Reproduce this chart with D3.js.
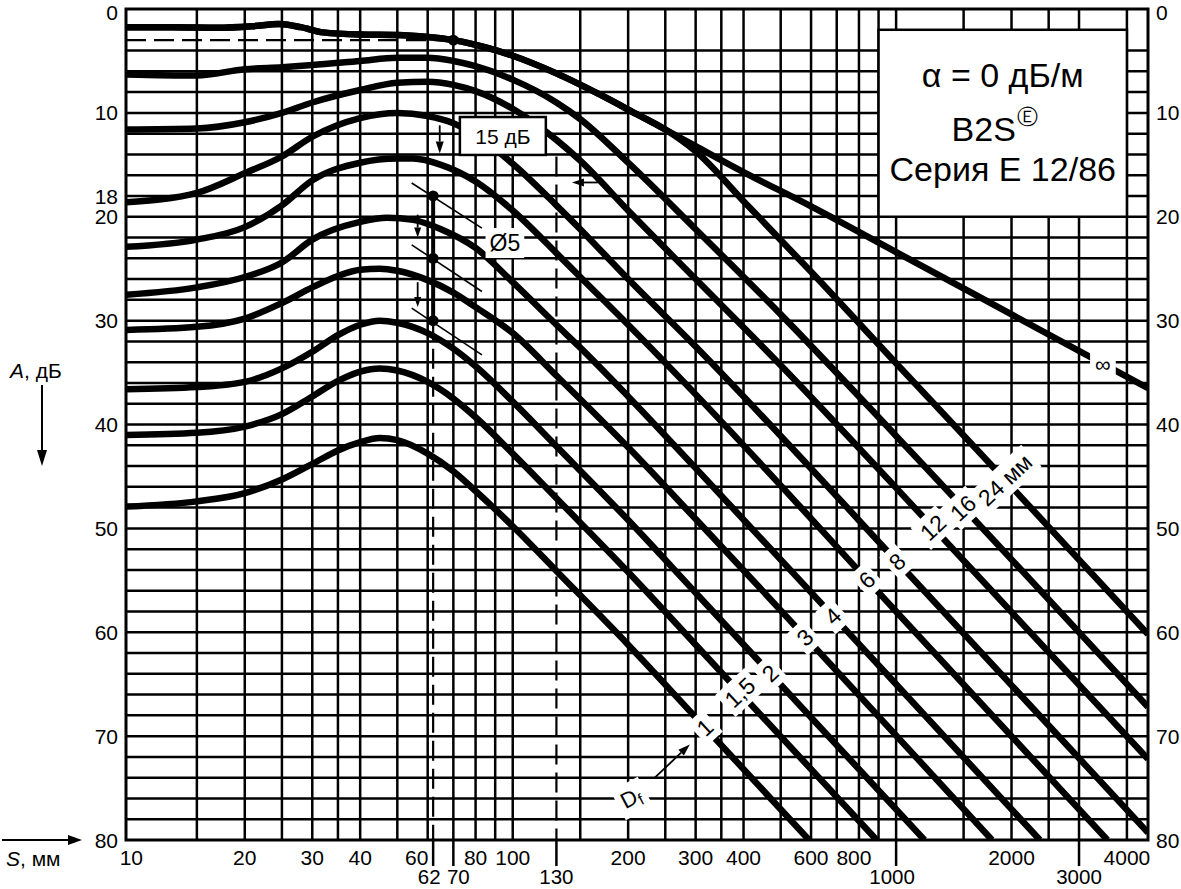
<!DOCTYPE html>
<html><head><meta charset="utf-8">
<script src="https://cdn.jsdelivr.net/npm/d3@7"></script>
<style>
body{margin:0;background:#fff}
svg{display:block}
text{font-family:"Liberation Sans",Arial,Helvetica,sans-serif;fill:#000}
</style>
</head><body>
<svg id="c" width="1181" height="889"></svg>
<script>
// ---------------- DATA ----------------
const xGrid = [15,20,25,30,35,40,50,60,70,80,90,100,150,200,250,300,350,400,500,600,700,800,900,1000,1500,2000,2500,3000,4000];
const yGrid = [4,6,8,10,12,14,16,18,20,22,24,26,28,30,32,34,36,38,40,42,44,46,48,50,52,54,56,58,60,62,64,66,68,70,72,74,76,78];
const xTickMain = [10,20,30,40,60,80,100,200,300,400,600,800,2000,4000];
const xTickLow = [62,70,130,1000,3000];
const yTicksLeft = [0,10,18,20,30,40,50,60,70,80];
const yTicksRight = [0,10,20,30,40,50,60,70,80];

// DGS curves: [distance S (mm), gain A (dB)]
const curveInf = [[9.8,1.75],[13,1.75],[17,1.8],[21,1.65],[24.5,1.45],[28,1.75],[32,2.25],[40,2.45],[50,2.5],[60,2.7],[70,3.0],[85,3.7],[100,4.5],[130,6.2],[170,8.3],[210,10.1],[250,11.6],[300,13.2],[400,15.7],[600,19.0],[1000,23.4],[2000,29.4],[4540,36.5]];
const curve24 = [[9.8,1.75],[13,1.75],[17,1.8],[21,1.65],[24.5,1.45],[28,1.75],[32,2.25],[40,2.45],[50,2.5],[60,2.7],[70,3.0],[85,3.7],[100,4.5],[130,6.2],[170,8.3],[210,10.1],[250,11.6],[300,13.7],[400,18.5],[600,25.3],[1000,34.1],[2000,46.0],[4540,60.2]];
const curve16 = [[9.8,6.3],[15,6.4],[20,5.8],[25,5.6],[30,5.4],[40,5.0],[50,4.7],[60,4.7],[70,5.0],[80,5.5],[100,6.8],[130,9.0],[150,10.6],[200,14.8],[300,21.2],[500,29.4],[1000,41.1],[4540,67.2]];
const curve12 = [[9.8,11.6],[15,11.5],[20,10.9],[25,10.0],[30,9.0],[40,7.8],[50,7.1],[60,7.0],[70,7.3],[80,7.9],[100,9.6],[130,12.6],[150,14.6],[200,19.4],[300,26.0],[500,34.3],[1000,46.1],[4540,72.2]];
const curve8 = [[9.8,18.6],[15,17.7],[20,15.8],[25,14.2],[30,12.3],[40,10.5],[50,10.0],[60,10.3],[70,11.0],[80,12.1],[100,14.9],[130,18.9],[150,21.2],[200,26.0],[300,32.5],[500,41.1],[1000,53.1],[4540,79.3]];
const curve6 = [[9.8,22.9],[15,22.2],[20,21.0],[25,18.9],[30,16.5],[40,14.8],[50,14.4],[55,14.4],[65,15.0],[80,16.6],[100,19.4],[130,23.5],[150,25.8],[200,30.4],[300,37.1],[1000,58.0],[3558,80]];
const curve4 = [[9.8,27.5],[15,26.8],[20,25.8],[25,24.4],[30,22.2],[40,20.5],[47,20.1],[55,20.3],[65,21.2],[80,23.0],[100,26.3],[130,30.4],[150,32.6],[200,37.3],[300,44.2],[1000,65.0],[2372,80]];
const curve3 = [[9.8,30.9],[15,30.6],[20,29.8],[25,28.3],[30,26.8],[35,25.7],[40,25.1],[45,25.0],[50,25.2],[60,26.1],[70,27.3],[80,28.7],[100,31.2],[130,35.3],[200,42.2],[300,49.1],[1779,80]];
const curve2 = [[9.8,36.6],[15,36.4],[20,35.9],[25,34.6],[30,33.0],[35,31.4],[40,30.4],[45,30.0],[50,30.2],[60,31.2],[70,32.7],[80,34.4],[100,37.8],[130,42.1],[200,49.2],[300,56.2],[1186,80]];
const curve1_5 = [[9.8,41.0],[15,40.8],[20,40.2],[25,39.0],[30,37.3],[35,35.8],[40,34.9],[45,34.6],[50,34.8],[60,35.9],[70,37.5],[80,39.3],[100,42.8],[130,47.1],[200,54.2],[300,61.2],[890,80]];
const curve1 = [[9.8,47.9],[15,47.4],[20,46.6],[25,45.3],[30,43.8],[35,42.5],[40,41.7],[45,41.3],[50,41.5],[60,42.8],[70,44.5],[80,46.4],[100,49.8],[130,54.1],[200,61.2],[300,68.2],[593,80]];

const discLabels = ["1","1,5","2","3","4","6","8","12","16","24 мм"];
const discLabelS = [317,391,469,578,684,839,1005,1247,1494,1923];
const infLabelS = 3463;

// Ø5 reference segments and example points
const ref5a = [[54.5,16.75],[83.1,21.1]];
const ref5b = [[54.5,22.7],[83.1,27.2]];
const ref5c = [[54.5,28.8],[83.1,33.3]];
const examplePoints = [[62,18],[62,24],[62,30]];
const backwallPoint = [70,3];

// ---------------- CHART ----------------
const svg = d3.select('#c');
const x = d3.scaleLog().domain([9.8,4540]).range([126,1148]);
const y = d3.scaleLinear().domain([0,80]).range([9,840]);
const X0=x(9.8), X1=x(4540), Y0=y(0), Y1=y(80);

svg.append('rect').attr('width',1181).attr('height',889).attr('fill','#fff');
svg.append('defs').append('clipPath').attr('id','plot').append('rect')
  .attr('x',X0).attr('y',Y0).attr('width',X1-X0).attr('height',Y1-Y0);

const grid = svg.append('g').attr('stroke','#000').attr('stroke-width',2.5);
grid.selectAll('line.v').data(xGrid).join('line')
  .attr('x1',d=>x(d)).attr('x2',d=>x(d)).attr('y1',Y0).attr('y2',Y1);
grid.selectAll('line.h').data(yGrid).join('line')
  .attr('y1',d=>y(d)).attr('y2',d=>y(d)).attr('x1',X0).attr('x2',X1);

// long ticks below axis
svg.append('g').attr('stroke','#000').attr('stroke-width',2.5)
  .selectAll('line').data(xTickLow).join('line')
  .attr('x1',d=>x(d)).attr('x2',d=>x(d)).attr('y1',Y1).attr('y2',Y1+26);

// dashed lines
const dash = svg.append('g').attr('stroke','#000').attr('stroke-width',2.2).attr('stroke-dasharray','20,8').attr('fill','none');
dash.append('line').attr('x1',X0).attr('x2',x(backwallPoint[0])).attr('y1',y(backwallPoint[1])).attr('y2',y(backwallPoint[1]));
dash.append('line').attr('x1',x(62)).attr('x2',x(62)).attr('y1',y(30)).attr('y2',Y1);
dash.append('line').attr('x1',x(130)).attr('x2',x(130)).attr('y1',y(14.2)).attr('y2',Y1);

// curves
const line = d3.line().x(d=>x(d[0])).y(d=>y(d[1])).curve(d3.curveMonotoneX);
const curvesG = svg.append('g').attr('clip-path','url(#plot)');
const discCurves = [curve1,curve1_5,curve2,curve3,curve4,curve6,curve8,curve12,curve16,curve24];
[curveInf,...discCurves].forEach(c=>{
  curvesG.append('path').attr('d',line(c)).attr('fill','none').attr('stroke','#000')
    .attr('stroke-width',6.5).attr('stroke-linejoin','round');
});

// frame
svg.append('rect').attr('x',X0).attr('y',Y0).attr('width',X1-X0).attr('height',Y1-Y0)
  .attr('fill','none').attr('stroke','#000').attr('stroke-width',3);

// thin Ø5 segments
[ref5a,ref5b,ref5c].forEach(s=>{
  svg.append('path').attr('d',d3.line().x(d=>x(d[0])).y(d=>y(d[1]))(s))
    .attr('stroke','#000').attr('stroke-width',1.6).attr('fill','none');
});

// vertical connection of example points
svg.append('line').attr('x1',x(62)).attr('x2',x(62)).attr('y1',y(18)).attr('y2',y(30))
  .attr('stroke','#000').attr('stroke-width',4);

function along(c,s){
  for(let i=0;i<c.length-1;i++){
    if(s>=c[i][0]&&s<=c[i+1][0]){
      const t=(Math.log(s)-Math.log(c[i][0]))/(Math.log(c[i+1][0])-Math.log(c[i][0]));
      return c[i][1]+t*(c[i+1][1]-c[i][1]);
    }
  }
  return c[c.length-1][1];
}

function whiteLabel(px,py,rot,txt,size,padX,padY){
  const g=svg.append('g').attr('transform',`translate(${px},${py}) rotate(${rot})`);
  const t=g.append('text').attr('text-anchor','middle').attr('dy','0.36em').style('font-size',size+'px').text(txt);
  const bb=t.node().getBBox();
  g.insert('rect','text').attr('x',bb.x-padX).attr('y',bb.y-padY).attr('width',bb.width+2*padX).attr('height',bb.height+2*padY).attr('fill','#fff');
  return g;
}

// disc labels
discLabels.forEach((t,i)=>{
  const s=discLabelS[i], a=along(discCurves[i],s);
  whiteLabel(x(s),y(a),-43,t,23,4,2);
});
// ∞ label
whiteLabel(x(infLabelS),y(along(curveInf,infLabelS)),0,'∞',22,5,1);

// Ø5 label
whiteLabel(x(95.4),y(22.5),0,'Ø5',23,4,2);

// 15 dB box
svg.append('rect').attr('x',x(72.8)).attr('y',y(10.4)).attr('width',x(122)-x(72.8)).attr('height',y(14.05)-y(10.4))
  .attr('fill','#fff').attr('stroke','#000').attr('stroke-width',2.5);
svg.append('text').attr('x',(x(72.8)+x(122))/2).attr('y',(y(10.4)+y(14.05))/2).attr('dy','0.36em')
  .attr('text-anchor','middle').style('font-size','21px').text('15 дБ');

// arrows
function arrow(p0,p1,head,wid){
  const [ax,ay]=[x(p0[0]),y(p0[1])],[bx,by]=[x(p1[0]),y(p1[1])];
  const L=Math.hypot(bx-ax,by-ay), ux=(bx-ax)/L, uy=(by-ay)/L;
  const cx=bx-ux*head, cy=by-uy*head;
  svg.append('line').attr('x1',ax).attr('y1',ay).attr('x2',cx).attr('y2',cy).attr('stroke','#000').attr('stroke-width',1.8);
  svg.append('path').attr('d',`M${bx},${by}L${cx-uy*wid/2},${cy+ux*wid/2}L${cx+uy*wid/2},${cy-ux*wid/2}Z`).attr('fill','#000');
}
arrow([64.5,11.2],[64.5,13.9],12,8);
arrow([56.5,19.8],[56.5,22.0],10,7);
arrow([56.5,26.3],[56.5,28.7],10,7);
arrow([166.7,16.7],[142.7,16.7],12,8);
arrow([234.8,74.0],[289.7,70.8],12,8);

// Df label
const dfG=svg.append('g').attr('transform',`translate(${x(203.3)},${y(75.9)}) rotate(-28)`);
const dfT=dfG.append('text').attr('text-anchor','middle').attr('dy','0.36em').style('font-size','22px');
dfT.append('tspan').text('D');
dfT.append('tspan').attr('dy','4').style('font-size','16px').text('f');
const dfb=dfT.node().getBBox();
dfG.insert('rect','text').attr('x',dfb.x-5).attr('y',dfb.y-3).attr('width',dfb.width+10).attr('height',dfb.height+6).attr('fill','#fff');

// points
svg.append('g').selectAll('circle').data([...examplePoints,backwallPoint]).join('circle')
  .attr('cx',d=>x(d[0])).attr('cy',d=>y(d[1])).attr('r',5.5).attr('fill','#000');

// info box
svg.append('rect').attr('x',x(900)).attr('y',y(2)).attr('width',x(4000)-x(900)).attr('height',y(20)-y(2))
  .attr('fill','#fff').attr('stroke','#000').attr('stroke-width',2.5);
const bxc=(x(900)+x(4000))/2;
svg.append('text').attr('x',bxc).attr('y',87).attr('text-anchor','middle').style('font-size','34px').text('α = 0 дБ/м');
const b2=svg.append('text').attr('x',bxc-8).attr('y',141).attr('text-anchor','middle').style('font-size','34px');
b2.append('tspan').text('B2S');
b2.append('tspan').attr('dy','-17').attr('dx','1').style('font-size','21px').text('Ⓔ');
svg.append('text').attr('x',bxc).attr('y',181).attr('text-anchor','middle').style('font-size','34px').text('Серия Е 12/86');

// axis labels
const lab=svg.append('g').style('font-size','21px');
lab.selectAll('text.l').data(yTicksLeft).join('text')
  .attr('x',118).attr('y',d=>y(d)+(d===0?3:0)).attr('dy','0.36em').attr('text-anchor','end').text(d=>d);
lab.selectAll('text.r').data(yTicksRight).join('text')
  .attr('x',1156).attr('y',d=>y(d)+(d===0?3:0)).attr('dy','0.36em').attr('text-anchor','start').text(d=>d);
const mainDx={10:2,60:-11,800:-5};
lab.selectAll('text.b').data(xTickMain).join('text')
  .attr('x',d=>x(d)+(mainDx[d]||0)).attr('y',857).attr('dy','0.36em').attr('text-anchor','middle').text(d=>d);
const lowDx={62:-4,70:5,1000:-4};
lab.selectAll('text.b2').data(xTickLow).join('text')
  .attr('x',d=>x(d)+(lowDx[d]||0)).attr('y',877).attr('dy','0.36em').attr('text-anchor','middle').style('font-size','20.5px').text(d=>d);

// axis titles
const st=svg.append('text').attr('x',6).attr('y',866).style('font-size','21px');
st.append('tspan').style('font-style','italic').text('S');
st.append('tspan').text(', мм');
svg.append('line').attr('x1',2).attr('x2',70).attr('y1',Y1).attr('y2',Y1).attr('stroke','#000').attr('stroke-width',2);
svg.append('path').attr('d',`M82,${Y1}L68,${Y1-5}L68,${Y1+5}Z`).attr('fill','#000');

const at=svg.append('text').attr('x',10).attr('y',378).style('font-size','21px');
at.append('tspan').style('font-style','italic').text('A');
at.append('tspan').text(', дБ');
svg.append('line').attr('x1',42).attr('x2',42).attr('y1',385).attr('y2',452).attr('stroke','#000').attr('stroke-width',2);
svg.append('path').attr('d','M42,466L37,450L47,450Z').attr('fill','#000');
</script>
</body></html>
